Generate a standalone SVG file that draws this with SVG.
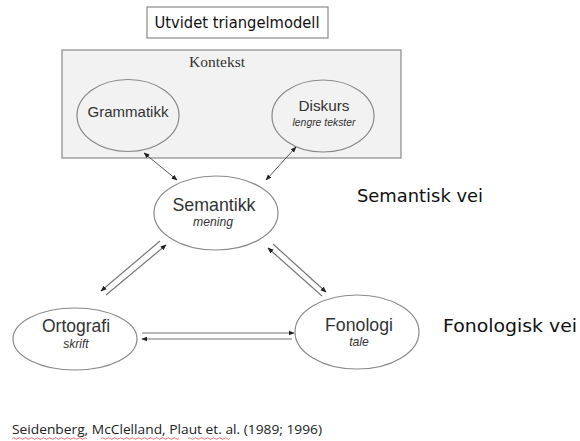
<svg xmlns="http://www.w3.org/2000/svg" width="580" height="441" viewBox="0 0 580 441">
<defs>
<marker id="ah" viewBox="0 0 10 10" refX="9" refY="5" markerWidth="6" markerHeight="6" orient="auto-start-reverse" markerUnits="userSpaceOnUse">
<path d="M0,1 L10,5 L0,9 z" fill="#222"/>
</marker>
<style>
.comic{font-family:"Comic Sans MS","DejaVu Sans",sans-serif;fill:#111;}
.nl{font-family:"Liberation Sans",Arial,sans-serif;fill:#333;text-anchor:middle;}
.sub{font-family:"Liberation Sans",Arial,sans-serif;fill:#333;font-style:italic;text-anchor:middle;}
.ell{stroke:#8a8a8a;stroke-width:1.2;}
.con{stroke:#555;stroke-width:1;fill:none;}
.dbl{stroke:#777;stroke-width:1.2;fill:none;}
</style>
</defs>
<rect width="580" height="441" fill="#fff"/>

<g id="title">
<rect x="147" y="7" width="181" height="31" fill="#fff" stroke="#8a8a8a" stroke-width="1.2"/>
<text class="comic" x="237" y="28" font-size="15" text-anchor="middle" textLength="165" lengthAdjust="spacingAndGlyphs">Utvidet triangelmodell</text>
</g>

<g id="kontekst">
<rect x="62" y="50" width="339" height="108" fill="#f2f2f2" stroke="#8a8a8a" stroke-width="1.2"/>
<text x="217" y="67" font-family="'Liberation Serif','Times New Roman',serif" font-size="15.5" fill="#333" text-anchor="middle">Kontekst</text>
</g>

<g id="grammatikk">
<ellipse class="ell" cx="128" cy="115.5" rx="51" ry="36" fill="#f2f2f2"/>
<text class="nl" x="128" y="117" font-size="15">Grammatikk</text>
</g>

<g id="diskurs">
<ellipse class="ell" cx="323" cy="116" rx="51" ry="36" fill="#f2f2f2"/>
<text class="nl" x="324" y="111" font-size="15.3">Diskurs</text>
<text class="sub" x="324" y="126" font-size="10.4">lengre tekster</text>
</g>

<g id="semantikk">
<ellipse class="ell" cx="216" cy="213" rx="62" ry="37" fill="#fff"/>
<text class="nl" x="214" y="211" font-size="17.8">Semantikk</text>
<text class="sub" x="213" y="226" font-size="12.2">mening</text>
</g>

<g id="ortografi">
<ellipse class="ell" cx="75" cy="339" rx="62" ry="31" fill="#fff"/>
<text class="nl" x="76" y="332" font-size="17.5">Ortografi</text>
<text class="sub" x="76" y="348" font-size="12">skrift</text>
</g>

<g id="fonologi">
<ellipse class="ell" cx="357" cy="332" rx="62" ry="37" fill="#fff"/>
<text class="nl" x="359" y="331" font-size="17.7">Fonologi</text>
<text class="sub" x="359" y="346" font-size="12.2">tale</text>
</g>

<g id="labels">
<text class="comic" x="357" y="202" font-size="18" textLength="126" lengthAdjust="spacingAndGlyphs">Semantisk vei</text>
<text class="comic" x="443" y="332" font-size="18" textLength="134" lengthAdjust="spacingAndGlyphs">Fonologisk vei</text>
</g>

<g id="connectors">
<line class="con" x1="144" y1="153" x2="177" y2="180" marker-start="url(#ah)" marker-end="url(#ah)"/>
<line class="con" x1="296" y1="147" x2="266" y2="180" marker-start="url(#ah)" marker-end="url(#ah)"/>
<line class="dbl" x1="160" y1="241" x2="101" y2="291" marker-end="url(#ah)"/>
<line class="dbl" x1="106" y1="295" x2="166" y2="245" marker-end="url(#ah)"/>
<line class="dbl" x1="273" y1="244" x2="326" y2="292" marker-end="url(#ah)"/>
<line class="dbl" x1="322" y1="296" x2="268" y2="248" marker-end="url(#ah)"/>
<line class="dbl" x1="142" y1="333" x2="294" y2="333" marker-end="url(#ah)"/>
<line class="dbl" x1="292" y1="339" x2="142" y2="339" marker-end="url(#ah)"/>
</g>

<g id="citation">
<text x="12" y="434" font-family="'Open Sans','Liberation Sans',sans-serif" font-size="13" fill="#222" textLength="310" lengthAdjust="spacingAndGlyphs">Seidenberg, McClelland, Plaut et. al. (1989; 1996)</text>
<path d="M12,438.5 q1.5,-1.5 3,0 t3,0 t3,0 t3,0 t3,0 t3,0 t3,0 t3,0 t3,0 t3,0 t3,0 t3,0 t3,0 t3,0 t3,0 t3,0 t3,0 t3,0 t3,0 t3,0 t3,0 t3,0 t3,0 t3,0 t3,0" fill="none" stroke="#e05050" stroke-width="0.8"/>
<path d="M101,438.5 q1.5,-1.5 3,0 t3,0 t3,0 t3,0 t3,0 t3,0 t3,0 t3,0 t3,0 t3,0 t3,0 t3,0 t3,0 t3,0 t3,0 t3,0 t3,0 t3,0 t3,0 t3,0 t3,0 t3,0 t3,0 t3,0 t3,0 t3,0" fill="none" stroke="#e05050" stroke-width="0.8"/>
<path d="M188,438.5 q1.5,-1.5 3,0 t3,0 t3,0 t3,0 t3,0 t3,0 t3,0 t3,0 t3,0 t3,0 t3,0 t3,0 t3,0 t3,0" fill="none" stroke="#e05050" stroke-width="0.8"/>
</g>
</svg>
